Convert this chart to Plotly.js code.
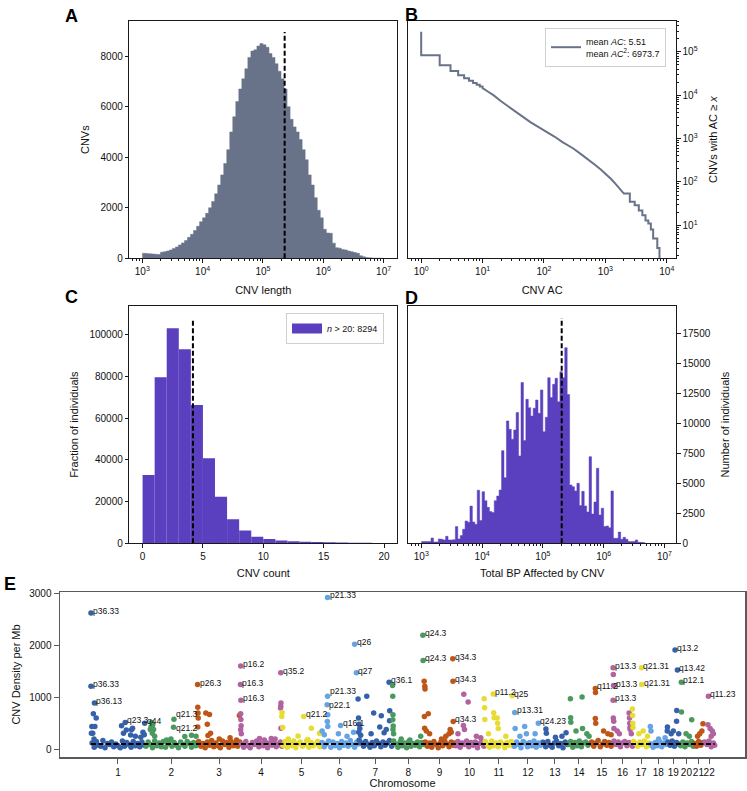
<!DOCTYPE html>
<html><head><meta charset="utf-8">
<script src="https://cdn.plot.ly/plotly-3.0.1.min.js"></script>
<style>html,body{margin:0;padding:0;background:#fff}#chart{width:747px;height:791px}</style>
</head><body><div id="chart"></div>
<script>
// ---------- Panel A: CNV length histogram (log10 bins) ----------
const lengthBinStartLog = 3.0;
const lengthBinWidthLog = 0.05;
const lengthCounts = [
  200,190,180,170,160,150,240,260,290,330,
  390,450,530,610,700,830,950,1100,1270,1450,
  1600,1780,2000,2250,2550,2900,3300,3750,4300,5000,
  5600,6200,6700,7100,7500,7950,8200,8250,8400,8500,
  8450,8350,8100,7950,7700,7400,7100,6700,6000,5500,
  5200,5000,4700,4300,3900,3300,2900,2400,1900,1600,
  1150,1000,990,600,420,400,350,330,290,260,
  230,200,100,60,30,20,10,5,3,2];
const meanLength = 229000;
const meanLengthLineTop = 8950;

// ---------- Panel B: CNVs with AC >= x ----------
const acValues = [1,1,2,3,4,5,6,7,8,9,10,12,15,20,25,30,40,50,60,70,85,100,125,150,200,250,300,400,500,600,700,850,1000,1250,1500,1750,2000,2500,3000,3500,4000,4500,5000,5500,6000,7000,7600];
const acCounts = [288000,83000,49000,36300,28800,24500,21400,19000,17400,15800,14500,12300,10000,7240,5750,4790,3630,2880,2400,2090,1780,1550,1290,1100,830,690,590,437,347,282,240,190,155,115,87,68,54,35,29,22,17,13,11,8,5,3,1];
const acLegend = 'mean <i>AC</i>: 5.51<br>mean <i>AC</i><sup>2</sup>: 6973.7';

// ---------- Panel C: CNV count per individual ----------
const cnvCountBins = [0,1,2,3,4,5,6,7,8,9,10,11,12,13,14,15,16,17,18,19];
const cnvCountIndividuals = [32800,79700,103200,93100,66400,40800,22400,11500,6100,3200,2100,1400,1000,800,600,450,380,300,240,190];
const meanCnvCount = 4.17;
const meanCnvCountLineTop = 108000;
const cnvCountLegend = '<i>n</i> > 20: 8294';

// ---------- Panel D: total bp affected (log10 bins) ----------
const bpBinStartLog = 3.0;
const bpBinWidthLog = 0.04;
const bpIndividuals = [
  140,140,140,150,440,110,110,360,330,280,
  580,280,280,300,1390,360,640,1170,1860,1750,
  3100,1780,1580,4420,1890,4300,3550,3000,2640,2560,
  3550,3940,4440,7720,5470,10200,9500,8670,9440,10900,
  7280,13400,8560,12000,11300,10600,11250,11940,10830,12780,
  9300,10500,13800,12140,13250,13750,11800,14300,13800,16300,
  12400,4860,4720,4360,5000,3140,4330,3110,2610,7220,
  2440,3440,6250,2360,2920,1390,1440,1300,4360,420,
  420,940,330,500,330,140,140,140,280,80,
  80,60];
const meanBp = 204000;
const meanBpLineTop = 18775;

// ---------- Panel E: CNV density per Mb along the genome ----------
const chromLabels = ['1','2','3','4','5','6','7','8','9','10','11','12','13','14','15','16','17','18','19','20','21','22'];
const chromLengthsMb = [249,243,198,191,181,171,159,146,141,136,135,134,115,107,103,90,81,78,59,63,48,51];
const bandStepMb = 10;
const bandDensity = [
  [120,40,150,80,60,170,30,110,90,140,50,100,70,30,160,60,130,90,40,150,70,110,50,140,80],
  [60,140,90,30,160,70,120,50,150,40,100,170,60,130,80,30,140,90,60,150,110,40,130,70,100],
  [150,60,110,30,140,80,170,50,120,70,30,160,90,130,40,150,70,110,60,140],
  [100,40,150,70,30,130,90,160,50,110,70,140,30,120,80,160,50,100,140,60],
  [80,150,40,120,70,160,30,110,140,60,90,170,40,130,70,100,150,50,120],
  [130,50,100,160,40,140,70,110,30,150,80,120,60,170,90,40,140,100],
  [180,120,60,150,90,40,130,70,160,110,50,140,80,120,170,60],
  [160,100,40,140,70,120,30,150,60,110,80,140,50,130,90],
  [140,60,120,40,150,90,30,130,70,160,100,50,140,80,120],
  [70,150,40,120,90,160,50,130,80,140,30,110,150,60],
  [150,90,40,160,70,120,50,140,100,30,130,80,150,60],
  [60,140,90,30,150,110,50,130,70,160,40,120,80,140],
  [130,50,150,80,40,120,160,70,110,30,140,90],
  [90,150,40,130,70,160,50,120,140,80,110],
  [140,60,120,170,50,100,150,80,130,60,110],
  [160,90,140,50,120,150,70,130,100,60],
  [150,110,60,140,90,160,50,120,80],
  [100,40,130,70,150,50,120,90],
  [140,80,160,60,130,100],
  [70,140,50,120,90,150,60],
  [110,60,150,80,130],
  [140,90,160,50,120,80]];
// elevated points per chromosome: [position within chromosome (Mb), density]
const peakPoints = [
  [[0,2619],[0,1213],[16,890],[11,684],[24,600],[4,440],[18,440],[8,310],[2,310],[14,200],[141,452],[158,516],[150,310],[163,370],[187,374],[192,406],[183,277],[205,250],[230,230],[248,503],[240,330],[246,280]],
  [[31,516],[36,470],[28,430],[25,380],[40,380],[34,310],[45,250],[134,580],[132,426],[120,200],[184,245],[215,270],[236,250],[100,180]],
  [[0,1245],[1,810],[2,700],[3,600],[1,430],[38,700],[55,670],[45,480],[48,265],[60,310],[100,200],[150,220],[180,180],[193,652]],
  [[1,1600],[0,1245],[2,942],[1,683],[2,574],[3,452],[1,376],[4,300],[88,210],[110,180],[142,210],[186,1471],[187,890],[186,826],[185,794],[187,406],[160,200]],
  [[1,710],[0,632],[4,420],[101,632],[136,406],[75,258],[174,310],[30,200],[120,190]],
  [[30,2921],[30,1019],[28,858],[31,665],[29,535],[31,440],[155,2019],[163,1471],[90,458],[80,300],[15,280],[5,350],[120,250],[150,330]],
  [[0,968],[40,1019],[72,697],[107,645],[143,1290],[145,550],[146,740],[2,600],[4,480],[8,400],[3,330],[12,270],[100,430],[120,320],[130,380],[60,300]],
  [[0,1225],[1,1019],[2,665],[1,568],[3,450],[2,380],[5,300],[40,200],[80,180],[140,2194],[141,1710],[130,250]],
  [[0,1310],[3,1213],[4,1161],[19,684],[1,632],[2,406],[10,350],[25,300],[132,1742],[133,1310],[134,535],[120,380],[115,300],[125,330],[80,200],[100,250]],
  [[42,1060],[62,910],[40,460],[45,380],[15,300],[100,250],[120,220]],
  [[0,970],[2,800],[3,574],[42,1065],[44,703],[46,606],[129,1032],[60,600],[62,503],[65,400],[100,250],[20,300]],
  [[6,710],[8,400],[52,440],[115,503],[100,300],[60,300],[30,250]],
  [[16,390],[18,310],[109,320],[60,230],[90,250]],
  [[14,970],[68,1006],[15,606],[16,520],[40,350],[70,400],[90,300],[100,250]],
  [[22,1170],[23,1090],[22,590],[24,500],[60,350],[80,300],[95,280]],
  [[1,1568],[2,1439],[3,1226],[1,942],[2,600],[4,540],[5,400],[20,350],[30,300],[75,700],[77,600],[78,500],[79,420],[80,380],[85,300]],
  [[0,774],[1,650],[2,500],[3,420],[42,1568],[43,1245],[30,300],[50,350],[70,250]],
  [[2,440],[5,350],[40,200],[70,220]],
  [[38,1912],[49,1526],[46,748],[45,540],[3,430],[2,350],[20,300],[30,350],[55,300]],
  [[8,1290],[9,716],[56,568],[30,300],[45,250]],
  [[45,490],[40,350],[30,300],[20,250]],
  [[22,1019],[20,470],[30,400],[40,350],[45,300],[35,250]]];
// labelled cytobands: [chromosome index (0-based), position (Mb), density, band, vertical nudge px]
const peakLabels = [
  [0,0,2619,'p36.33',0],[0,0,1213,'p36.33',0],[0,16,890,'p36.13',0],[0,158,516,'q23.3',0],[0,248,503,'q44',0],
  [1,134,580,'q21.3',3],[1,132,426,'q21.2',-3],
  [2,0,1245,'p26.3',0],
  [3,1,1600,'p16.2',0],[3,0,1245,'p16.3',0],[3,2,942,'p16.3',0],[3,186,1471,'q35.2',0],
  [4,101,632,'q21.2',0],
  [5,30,2921,'p21.33',0],[5,30,1019,'p21.33',3],[5,28,858,'p22.1',-2],[5,90,458,'q16.1',0],[5,155,2019,'q26',0],[5,163,1471,'q27',0],
  [6,143,1290,'q36.1',0],
  [7,140,2194,'q24.3',0],[7,141,1710,'q24.3',0],
  [8,132,1742,'q34.3',0],[8,133,1310,'q34.3',0],[8,134,535,'q34.3',0],
  [10,42,1065,'p11.2',0],[10,129,1032,'q25',0],
  [11,6,710,'p13.31',0],[11,115,503,'q24.23',0],
  [14,22,1170,'q11.2',0],
  [15,1,1568,'p13.3',0],[15,3,1226,'p13.3',0],[15,1,942,'p13.3',0],
  [16,42,1568,'q21.31',0],[16,43,1245,'q21.31',0],
  [18,38,1912,'q13.2',0],[18,49,1526,'q13.42',0],
  [19,8,1290,'p12.1',0],
  [21,22,1019,'q11.23',0]];
const meanDensity = 100;

// ---------- styles ----------
const W = 747, H = 791;
const FONT = 'Liberation Sans, Arial, Helvetica, sans-serif';
const slate = '#687389';
const purple = '#5a40be';
const chromPalette = ['#3561aa','#4a9a5f','#be5618','#b063a0','#e6dc34','#66a3e4'];
const px = v => v / W;
const py = v => 1 - v / H;

// ---------- build traces ----------
const traces = [];

function histStep(startLog, widthLog, counts) {
  const xs = [], ys = [];
  for (let i = 0; i < counts.length; i++) { xs.push(Math.pow(10, startLog + i * widthLog)); ys.push(counts[i]); }
  xs.push(Math.pow(10, startLog + counts.length * widthLog)); ys.push(counts[counts.length - 1]);
  return {xs, ys};
}

// A
const hA = histStep(lengthBinStartLog, lengthBinWidthLog, lengthCounts);
traces.push({type:'scatter', mode:'lines', x:hA.xs, y:hA.ys, xaxis:'x', yaxis:'y', line:{shape:'hv', color:slate, width:0.5}, fill:'tozeroy', fillcolor:slate, showlegend:false, hoverinfo:'skip'});
traces.push({type:'scatter', mode:'lines', x:[meanLength, meanLength], y:[0, meanLengthLineTop], xaxis:'x', yaxis:'y', line:{color:'#000', width:2, dash:'5px,2.5px'}, showlegend:false});

// B (steps for small and large AC, linear in between)
const bx = [], by = [];
for (let i = 0; i < acValues.length; i++) {
  if (i > 0 && (acValues[i] <= 10 || acValues[i] >= 2500)) { bx.push(acValues[i]); by.push(acCounts[i-1]); }
  bx.push(acValues[i]); by.push(acCounts[i]);
}
traces.push({type:'scatter', mode:'lines', x:bx, y:by, xaxis:'x2', yaxis:'y2', line:{color:slate, width:2}, name:acLegend, legend:'legend', showlegend:true});

// C
traces.push({type:'bar', x:cnvCountBins.map(b => b + 0.5), y:cnvCountIndividuals, width:1, xaxis:'x3', yaxis:'y3', marker:{color:purple, line:{width:0}}, showlegend:false});
traces.push({type:'scatter', mode:'lines', x:[meanCnvCount, meanCnvCount], y:[0, meanCnvCountLineTop], xaxis:'x3', yaxis:'y3', line:{color:'#000', width:2, dash:'5px,2.5px'}, showlegend:false});
traces.push({type:'scatter', mode:'lines', x:[null], y:[null], xaxis:'x3', yaxis:'y3', line:{color:purple, width:11}, name:cnvCountLegend, legend:'legend2', showlegend:true});

// D
const hD = histStep(bpBinStartLog, bpBinWidthLog, bpIndividuals);
traces.push({type:'scatter', mode:'lines', x:hD.xs, y:hD.ys, xaxis:'x4', yaxis:'y4', line:{shape:'hv', color:purple, width:0.5}, fill:'tozeroy', fillcolor:purple, showlegend:false, hoverinfo:'skip'});
traces.push({type:'scatter', mode:'lines', x:[meanBp, meanBp], y:[0, meanBpLineTop], xaxis:'x4', yaxis:'y4', line:{color:'#000', width:2, dash:'5px,2.5px'}, showlegend:false});

// E
const chromStart = [];
let cum = 0;
chromLengthsMb.forEach(l => { chromStart.push(cum); cum += l; });
const genomeLength = cum;
const chromMid = chromLengthsMb.map((l, i) => chromStart[i] + l / 2);
chromLengthsMb.forEach((len, c) => {
  const xs = [], ys = [];
  bandDensity[c].forEach((d, i) => { xs.push(chromStart[c] + Math.min(i * bandStepMb + bandStepMb / 2, len)); ys.push(d); });
  peakPoints[c].forEach(p => { xs.push(chromStart[c] + p[0]); ys.push(p[1]); });
  traces.push({type:'scatter', mode:'markers', x:xs, y:ys, xaxis:'x5', yaxis:'y5', marker:{color:chromPalette[c % 6], size:5.5, line:{width:0}}, showlegend:false});
});
traces.push({type:'scatter', mode:'lines', x:[0, genomeLength], y:[meanDensity, meanDensity], xaxis:'x5', yaxis:'y5', line:{color:'#000', width:2, dash:'5px,2.5px'}, showlegend:false});

// ---------- axes ----------
function minorLog(lo, hi) {
  const v = [];
  for (let e = lo; e <= hi; e++) for (let m = 2; m <= 9; m++) v.push(m * Math.pow(10, e));
  return v;
}
function powLabels(lo, hi) {
  const vals = [], txt = [];
  for (let e = lo; e <= hi; e++) { vals.push(Math.pow(10, e)); txt.push('10<sup>' + e + '</sup>'); }
  return {vals, txt};
}
const tickFont = {family:FONT, size:10, color:'#111'};
const titleFont = {family:FONT, size:11, color:'#111'};
const frame = {showline:true, mirror:true, linecolor:'#1a1a1a', linewidth:1, showgrid:false, zeroline:false, ticks:'outside', ticklen:3.5, tickwidth:1, tickcolor:'#1a1a1a', tickfont:tickFont, tickangle:0};

const pA = powLabels(3, 7), pB = powLabels(0, 4), pBy = powLabels(1, 5), pD = powLabels(3, 7);

const layout = {
  width: W, height: H,
  margin: {l:0, r:0, t:0, b:0},
  paper_bgcolor: '#fff', plot_bgcolor: '#fff',
  font: {family: FONT, size: 10, color: '#111'},
  showlegend: true,
  // A
  xaxis: Object.assign({}, frame, {domain:[px(129.3), px(397.3)], anchor:'y', type:'log', range:[2.785, 7.227], tickmode:'array', tickvals:pA.vals, ticktext:pA.txt,
    minor:{tickmode:'array', tickvals:minorLog(2, 7), ticks:'outside', ticklen:2, tickcolor:'#1a1a1a'},
    title:{text:'CNV length', font:titleFont, standoff:10}}),
  yaxis: Object.assign({}, frame, {domain:[py(258.3), py(21)], anchor:'x', range:[0, 9390], tickvals:[0,2000,4000,6000,8000],
    title:{text:'CNVs', font:titleFont, standoff:8}}),
  // B
  xaxis2: Object.assign({}, frame, {domain:[px(408.3), px(676)], anchor:'y2', type:'log', range:[-0.21, 4.15], tickmode:'array', tickvals:pB.vals, ticktext:pB.txt,
    minor:{tickmode:'array', tickvals:minorLog(-1, 4), ticks:'outside', ticklen:2, tickcolor:'#1a1a1a'},
    title:{text:'CNV AC', font:titleFont, standoff:10}}),
  yaxis2: Object.assign({}, frame, {domain:[py(258.3), py(21)], anchor:'x2', side:'right', type:'log', range:[0.24, 5.71], tickmode:'array', tickvals:pBy.vals, ticktext:pBy.txt,
    minor:{tickmode:'array', tickvals:minorLog(0, 5), ticks:'outside', ticklen:2, tickcolor:'#1a1a1a'},
    title:{text:'CNVs with AC ≥ <i>x</i>', font:titleFont, standoff:12}}),
  // C
  xaxis3: Object.assign({}, frame, {domain:[px(129.3), px(397.3)], anchor:'y3', range:[-1.1, 21.1], tickvals:[0,5,10,15,20],
    title:{text:'CNV count', font:titleFont, standoff:8}}),
  yaxis3: Object.assign({}, frame, {domain:[py(543.3), py(306)], anchor:'x3', range:[0, 113900], tickvals:[0,20000,40000,60000,80000,100000], tickformat:'d',
    title:{text:'Fraction of individuals', font:titleFont, standoff:8}}),
  // D
  xaxis4: Object.assign({}, frame, {domain:[px(408.3), px(676)], anchor:'y4', type:'log', range:[2.786, 7.19], tickmode:'array', tickvals:pD.vals, ticktext:pD.txt,
    minor:{tickmode:'array', tickvals:minorLog(2, 7), ticks:'outside', ticklen:2, tickcolor:'#1a1a1a'},
    title:{text:'Total BP Affected by CNV', font:titleFont, standoff:8}}),
  yaxis4: Object.assign({}, frame, {domain:[py(543.3), py(306)], anchor:'x4', side:'right', range:[0, 19775], tickvals:[0,2500,5000,7500,10000,12500,15000,17500], tickformat:'d',
    title:{text:'Number of individuals', font:titleFont, standoff:11}}),
  // E
  xaxis5: Object.assign({}, frame, {domain:[px(60), px(745)], anchor:'y5', range:[-143, 3019], tickmode:'array', tickvals:chromMid, ticktext:chromLabels,
    linecolor:'#5a5a5a', linewidth:1.5, ticklen:5, tickcolor:'#5a5a5a',
    title:{text:'Chromosome', font:titleFont, standoff:2}}),
  yaxis5: Object.assign({}, frame, {domain:[py(757), py(592)], anchor:'x5', range:[-148, 3025], tickvals:[0,1000,2000,3000],
    linecolor:'#5a5a5a', linewidth:1.5, ticklen:5, tickcolor:'#5a5a5a',
    title:{text:'CNV Density per Mb', font:titleFont, standoff:6}}),
  legend: {x:px(545), y:py(28), xanchor:'left', yanchor:'top', bgcolor:'rgba(255,255,255,0.95)', bordercolor:'#cfcfcf', borderwidth:1, font:{family:FONT, size:9, color:'#111'}},
  legend2: {x:px(286), y:py(313), xanchor:'left', yanchor:'top', bgcolor:'rgba(255,255,255,0.95)', bordercolor:'#cfcfcf', borderwidth:1, font:{family:FONT, size:9, color:'#111'}},
  annotations: []
};

// panel letters
[['A',63,4],['B',403,3],['C',63,285],['D',403,286],['E',2,572]].forEach(p => {
  layout.annotations.push({text:'<b>' + p[0] + '</b>', xref:'paper', yref:'paper', x:px(p[1]), y:py(p[2]), xanchor:'left', yanchor:'top', showarrow:false, font:{family:FONT, size:18, color:'#000'}});
});
// cytoband labels
peakLabels.forEach(l => {
  layout.annotations.push({text:l[3], xref:'x5', yref:'y5', x:chromStart[l[0]] + l[1], y:l[2], xanchor:'left', yanchor:'middle', xshift:0, yshift:2 + l[4], showarrow:false, font:{family:FONT, size:8.5, color:'#111'}});
});

Plotly.newPlot('chart', traces, layout, {displayModeBar:false, staticPlot:true});
</script>
</body></html>
